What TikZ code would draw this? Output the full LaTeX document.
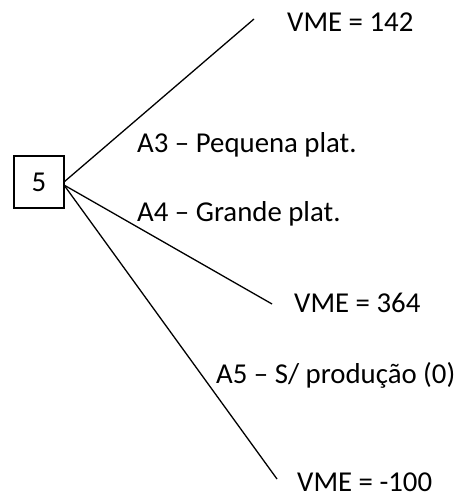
\documentclass[tikz,border=0pt]{standalone}
\usepackage{fontspec}
\setmainfont{Carlito}
\begin{document}
\begin{tikzpicture}[x=1pt,y=1pt,
  lbl/.style={inner sep=0pt,anchor=base west,font=\fontsize{28.8}{34}\selectfont},
  edge/.style={line width=1.3pt},
  box/.style={draw,line width=1.3pt,minimum width=50pt,minimum height=52pt,inner sep=0pt,font=\fontsize{28.8}{34}\selectfont}]
\useasboundingbox (0,0) rectangle (464,496);
\node[box] (b) at (39,314) {5};
\coordinate (s1) at (64,314);
\coordinate (s2) at (64,311);
\coordinate (e1) at (254,477);
\coordinate (e2) at (272,192);
\coordinate (e3) at (277,17);
\draw[edge] (s1) -- (e1);
\draw[edge] (s2) -- (e2);
\draw[edge] (s2) -- (e3);
\node[lbl] (v1) at (287,464) {VME = 142};
\node[lbl] (v2) at (294,183) {VME = 364};
\node[lbl] (v3) at (297,5) {VME = -100};
\node[lbl] (a3) at (137,343) {A3 – Pequena plat.};
\node[lbl] (a4) at (137,274) {A4 – Grande plat.};
\node[lbl] (a5) at (216,112) {A5 – S/ produção (0)};
\end{tikzpicture}
\end{document}
